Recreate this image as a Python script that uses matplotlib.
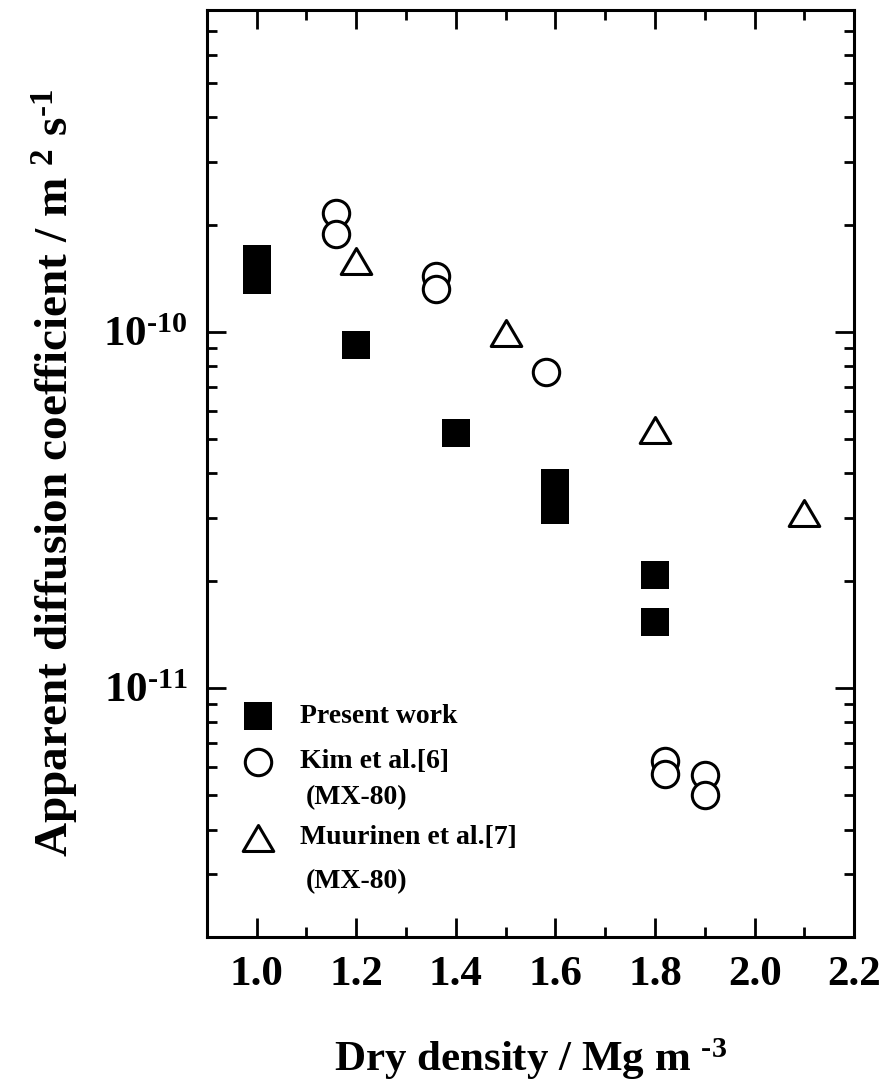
import matplotlib
matplotlib.use('Agg')
import matplotlib.pyplot as plt
from matplotlib.path import Path
from matplotlib.ticker import LogLocator, MultipleLocator, NullFormatter

# ---- data ----
present_x = [1.0, 1.0, 1.2, 1.4, 1.6, 1.6, 1.8, 1.8]
present_D = [1.6e-10, 1.4e-10, 9.2e-11, 5.2e-11, 3.75e-11, 3.15e-11, 2.08e-11, 1.53e-11]

kim_x = [1.16, 1.16, 1.36, 1.36, 1.58, 1.82, 1.82, 1.9, 1.9]
kim_D = [2.15e-10, 1.88e-10, 1.43e-10, 1.32e-10, 7.7e-11, 6.25e-12, 5.75e-12, 5.7e-12, 5.0e-12]

muur_x = [1.2, 1.5, 1.8, 2.1]
muur_D = [1.58e-10, 9.9e-11, 5.3e-11, 3.1e-11]

x_ticks = [1.0, 1.2, 1.4, 1.6, 1.8, 2.0, 2.2]
y_ticks = [1e-11, 1e-10]
y_ticklabels = [r'$10^{\text{-11}}$', r'$10^{\text{-10}}$']

plt.rcParams['font.family'] = 'Liberation Serif'
plt.rcParams['font.weight'] = 'bold'
plt.rcParams['axes.labelweight'] = 'bold'
plt.rcParams['mathtext.fontset'] = 'custom'
plt.rcParams['mathtext.rm'] = 'Liberation Serif:bold'
plt.rcParams['mathtext.it'] = 'Liberation Serif:bold'
plt.rcParams['mathtext.bf'] = 'Liberation Serif:bold'

fig = plt.figure(figsize=(8.88, 10.9), dpi=100)
ax = fig.add_axes([0.233, 0.1404, 0.729, 0.8504])

# slightly flattened open triangle, closed path
tri = Path([(-1, -0.85), (1, -0.85), (0, 0.85), (-1, -0.85)],
           [Path.MOVETO, Path.LINETO, Path.LINETO, Path.CLOSEPOLY])

ax.plot(present_x, present_D, 's', color='black', ms=20, mew=0, zorder=3)
ax.plot(kim_x, kim_D, 'o', mfc='white', mec='black', ms=19, mew=2.2, zorder=3)
ax.plot(muur_x, muur_D, marker=tri, ls='none', mfc='white', mec='black', ms=22, mew=2.2, zorder=3)

ax.set_yscale('log')
ax.set_xlim(0.9, 2.2)
ax.set_ylim(2e-12, 8e-10)

ax.set_xticks(x_ticks)
ax.set_xticklabels(['%.1f' % v for v in x_ticks])
ax.xaxis.set_minor_locator(MultipleLocator(0.1))
ax.set_yticks(y_ticks)
ax.set_yticklabels(y_ticklabels)
ax.yaxis.set_minor_locator(LogLocator(base=10, subs=range(2, 10)))
ax.yaxis.set_minor_formatter(NullFormatter())

ax.tick_params(which='both', direction='in', top=True, right=True, width=2)
ax.tick_params(which='major', length=14, labelsize=31, pad=14)
ax.tick_params(which='minor', length=7)
for s in ax.spines.values():
    s.set_linewidth(2.2)

ax.set_xlabel(r'Dry density / Mg m $^{\text{-3}}$', fontsize=31, fontweight='bold', labelpad=30)
ax.set_ylabel(r'Apparent diffusion coefficient / m $^{2}$ s$^{\text{-1}}$', fontsize=34,
              fontweight='bold', labelpad=16)

# legend drawn by hand so the markers line up with the first text line
lx, tx = 0.079, 0.144
ax.plot([lx], [0.238], 's', color='black', ms=20, mew=0, transform=ax.transAxes)
ax.plot([lx], [0.189], 'o', mfc='white', mec='black', ms=19, mew=2.2, transform=ax.transAxes)
ax.plot([lx], [0.107], marker=tri, ls='none', mfc='white', mec='black', ms=22, mew=2.2,
        transform=ax.transAxes)
ax.text(tx, 0.238, 'Present work', fontsize=20, va='center', transform=ax.transAxes)
ax.text(tx, 0.189, 'Kim et al.[6]', fontsize=20, va='center', transform=ax.transAxes)
ax.text(tx + 0.008, 0.150, '(MX-80)', fontsize=20, va='center', transform=ax.transAxes)
ax.text(tx, 0.107, 'Muurinen et al.[7]', fontsize=20, va='center', transform=ax.transAxes)
ax.text(tx + 0.008, 0.060, '(MX-80)', fontsize=20, va='center', transform=ax.transAxes)

plt.savefig('out.png', dpi=100)
plt.close()
